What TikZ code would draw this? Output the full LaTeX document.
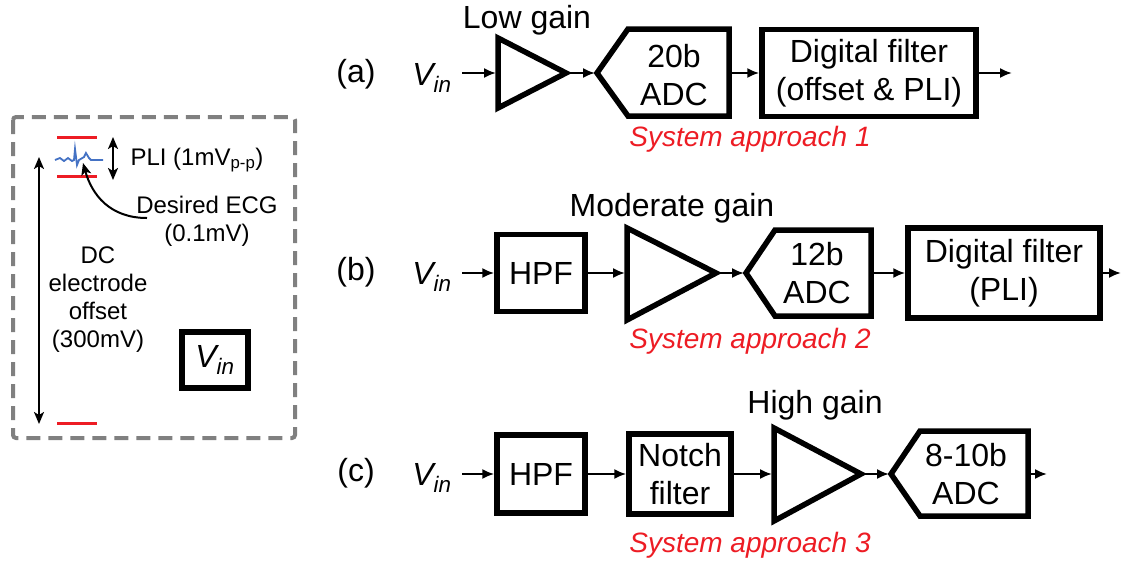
\documentclass[tikz,border=0pt]{standalone}
\usepackage{fontspec}
\setmainfont{Liberation Sans}
\usetikzlibrary{arrows.meta}
\definecolor{apred}{RGB}{237,28,36}
\definecolor{ecgblue}{RGB}{68,114,196}
\definecolor{dashgray}{RGB}{128,128,128}
\newcommand\bigtxt{\fontsize{32}{38}\selectfont}
\newcommand\redtxt{\fontsize{28}{33}\selectfont}
\newcommand\smalltxt{\fontsize{24}{28}\selectfont}

\begin{document}
\begin{tikzpicture}[x=1pt,y=-1pt,
    blk/.style={draw,line width=5.5pt,align=center,inner sep=0pt,font=\bigtxt},
    shp/.style={line width=5.5pt,line join=miter},
    sig/.style={line width=2pt,-{Latex[length=12pt,width=10pt]}},
    lbl/.style={font=\bigtxt},
    apname/.style={font=\redtxt\itshape,text=apred},
    lvl/.style={apred,line width=3pt}]
    \useasboundingbox (0,0) rectangle (1122,571);

    % input signal box
    \draw[dashgray,line width=4pt,dash pattern=on 14pt off 8pt,rounded corners=3pt]
        (13,117) rectangle (295,438);
    \draw[lvl] (57,137) -- (97,137);
    \draw[lvl] (57,176) -- (97,176);
    \draw[lvl] (57,423) -- (97,423);
    \draw[ecgblue,line width=1.8pt] (55,160) -- (60,158) -- (64,161) -- (68,158)
        -- (72,161) -- (74,160) -- (75,149) -- (77,165) -- (79,160) -- (84,157)
        -- (86,153) -- (89,158) -- (91,160) -- (103,160);
    \coordinate (ecg) at (83,163);
    \coordinate (plitop) at (113,137);
    \coordinate (plibot) at (113,180);
    \coordinate (dctop) at (39,157);
    \coordinate (dcbot) at (39,424);
    \draw[line width=2pt,{Stealth[length=12pt,width=10pt,inset=3pt]}-{Stealth[length=12pt,width=10pt,inset=3pt]}]
        (plitop) -- (plibot);
    \draw[line width=2pt,{Stealth[length=12pt,width=10pt,inset=3pt]}-{Stealth[length=12pt,width=10pt,inset=3pt]}]
        (dctop) -- (dcbot);
    \node[font=\smalltxt,anchor=west] (pli) at (127,160) {PLI (1mV\textsubscript{p-p})};
    \node[font=\smalltxt,align=center] (ecgtxt) at (207,221) {Desired ECG\\(0.1mV)};
    \coordinate (ecgtail) at (147,218);
    \draw[line width=2pt,-{Stealth[length=12pt,width=10pt,inset=3pt]}]
        (ecgtail) .. controls (110,218) and (92,195) .. (ecg);
    \node[font=\smalltxt,align=center] (dc) at (98,300) {DC\\electrode\\offset\\(300mV)};
    \node[draw,line width=5.5pt,minimum width=66,minimum height=56,font=\bigtxt\itshape]
        (vinbox) at (215,360) {V\textsubscript{in}};

    % (a)
    \node[lbl] (laba) at (356,74) {(a)};
    \node[lbl,font=\bigtxt\itshape] (vina) at (432,78) {V\textsubscript{in}};
    \coordinate (ina) at (462,73);
    \draw[shp] (498,38) -- (566,73) -- (498,108) -- cycle;
    \coordinate (ampa-l) at (496,73);
    \coordinate (ampa-r) at (566,73);
    \node[lbl] (gaina) at (527,20) {Low gain};
    \draw[shp] (597,73) -- (628,29) -- (729,29) -- (729,116) -- (628,116) -- cycle;
    \coordinate (adca-l) at (595,73);
    \coordinate (adca-r) at (731,73);
    \node[lbl,align=center] (adca) at (674,75) {20b\\ADC};
    \node[blk,minimum width=214,minimum height=87] (dfa) at (869,73) {Digital filter\\(offset \& PLI)};
    \coordinate (outa) at (1012,73);
    \draw[sig] (ina) -- (ampa-l);
    \draw[sig] (ampa-r) -- (adca-l);
    \draw[sig] (adca-r) -- (dfa.west);
    \draw[sig] (dfa.east) -- (outa);
    \node[apname] (apa) at (750,139) {System approach 1};

    % (b)
    \node[lbl] (labb) at (356,272) {(b)};
    \node[lbl,font=\bigtxt\itshape] (vinb) at (432,277) {V\textsubscript{in}};
    \coordinate (inb) at (462,273);
    \node[blk,minimum width=88,minimum height=77] (hpfb) at (541,273) {HPF};
    \draw[shp] (627,228) -- (716,273) -- (627,320) -- cycle;
    \coordinate (ampb-l) at (625,273);
    \coordinate (ampb-r) at (716,273);
    \node[lbl] (gainb) at (672,208) {Moderate gain};
    \draw[shp] (746,273) -- (775,230) -- (871,230) -- (871,316) -- (775,316) -- cycle;
    \coordinate (adcb-l) at (744,273);
    \coordinate (adcb-r) at (873,273);
    \node[lbl,align=center] (adcb) at (817,273) {12b\\ADC};
    \node[blk,minimum width=192,minimum height=90] (dfb) at (1004,273) {Digital filter\\(PLI)};
    \coordinate (outb) at (1121,273);
    \draw[sig] (inb) -- (hpfb.west);
    \draw[sig] (hpfb.east) -- (ampb-l);
    \draw[sig] (ampb-r) -- (adcb-l);
    \draw[sig] (adcb-r) -- (dfb.west);
    \draw[sig] (dfb.east) -- (outb);
    \node[apname] (apb) at (750,341) {System approach 2};

    % (c)
    \node[lbl] (labc) at (356,473) {(c)};
    \node[lbl,font=\bigtxt\itshape] (vinc) at (432,478) {V\textsubscript{in}};
    \coordinate (inc) at (462,474);
    \node[blk,minimum width=88,minimum height=78] (hpfc) at (541,474) {HPF};
    \node[blk,minimum width=102,minimum height=80] (notch) at (680,474) {Notch\\filter};
    \draw[shp] (774,428) -- (861,474) -- (774,521) -- cycle;
    \coordinate (ampc-l) at (772,474);
    \coordinate (ampc-r) at (861,474);
    \node[lbl] (gainc) at (815,405) {High gain};
    \draw[shp] (891,474) -- (920,431) -- (1028,431) -- (1028,516) -- (920,516) -- cycle;
    \coordinate (adcc-l) at (889,474);
    \coordinate (adcc-r) at (1030,474);
    \node[lbl,align=center] (adcc) at (966,474) {8-10b\\ADC};
    \coordinate (outc) at (1047,474);
    \draw[sig] (inc) -- (hpfc.west);
    \draw[sig] (hpfc.east) -- (notch.west);
    \draw[sig] (notch.east) -- (ampc-l);
    \draw[sig] (ampc-r) -- (adcc-l);
    \draw[sig] (adcc-r) -- (outc);
    \node[apname] (apc) at (750,545) {System approach 3};
\end{tikzpicture}
\end{document}
